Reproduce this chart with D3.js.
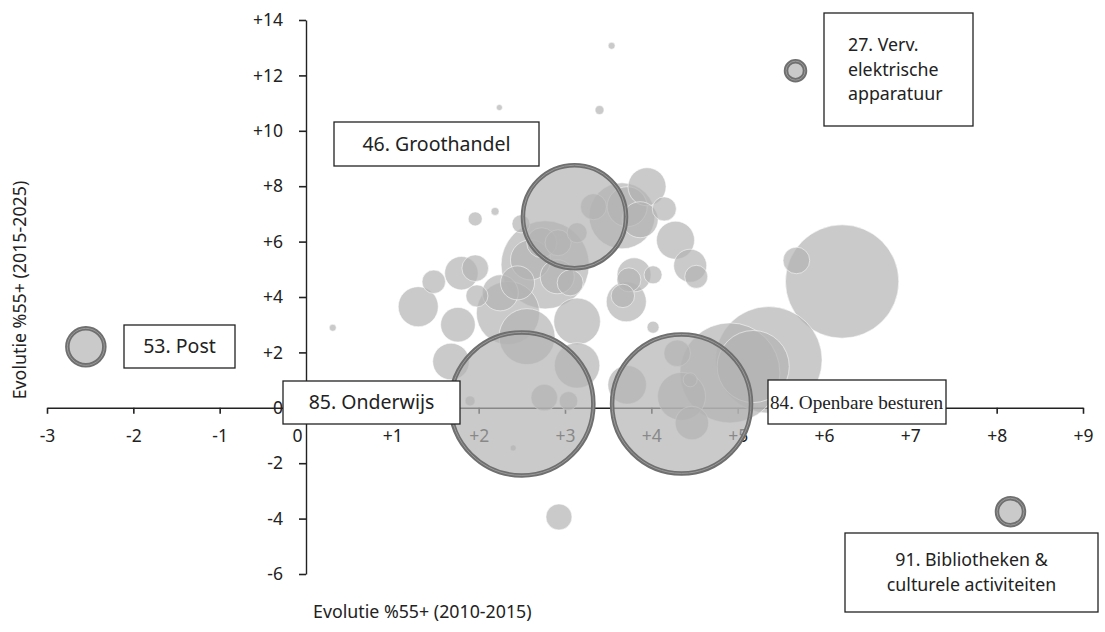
<!DOCTYPE html>
<html>
<head>
<meta charset="utf-8">
<script src="https://cdn.jsdelivr.net/npm/d3@7/dist/d3.min.js"></script>
<style>
  html, body { margin: 0; padding: 0; background: #fff; }
  svg { display: block; }
</style>
</head>
<body>
<svg id="chart" width="1105" height="632"></svg>
<script>
// ---------- DATA ----------
const xTicks = [-3, -2, -1, 0, 1, 2, 3, 4, 5, 6, 7, 8, 9];
const yTicks = [-6, -4, -2, 0, 2, 4, 6, 8, 10, 12, 14];
const xTitle = "Evolutie %55+ (2010-2015)";
const yTitle = "Evolutie %55+ (2015-2025)";

// unlabelled sectors: x = evolution 2010-2015, y = evolution 2015-2025, s = size
const bubbleX = [3.54, 2.24, 3.40, 1.96, 2.19, 2.49, 3.95, 4.15, 4.28, 4.45, 4.52, 4.02, 3.80, 3.74, 3.71, 3.67, 3.66, 3.33, 3.72, 3.87,
                 0.31, 1.30, 1.48, 1.80, 1.96, 1.98, 1.76, 1.68, 2.25, 2.34, 2.56, 3.14, 2.77, 3.14, 2.76, 3.04, 1.90, 2.40, 3.72, 4.02,
                 4.30, 4.35, 4.47, 4.45, 6.21, 5.68, 5.36, 5.18, 4.91, 2.93, 3.14, 2.92, 2.60, 2.91, 2.45, 3.06, 2.73];
const bubbleY = [13.07, 10.84, 10.75, 6.82, 7.09, 6.64, 7.98, 7.18, 6.05, 5.13, 4.73, 4.80, 4.80, 4.62, 3.83, 4.04, 6.93, 7.26, 7.26, 6.79,
                 2.89, 3.65, 4.55, 4.86, 5.04, 4.04, 3.00, 1.67, 4.15, 3.42, 2.57, 3.12, 5.16, 1.53, 0.37, 0.25, 0.25, -1.45, 0.83, 2.91,
                 1.97, 0.41, -0.55, 1.01, 4.56, 5.32, 1.73, 1.49, 1.26, -3.94, 6.32, 5.96, 5.34, 4.73, 4.51, 4.51, 5.96];
const bubbleSize = [0.12, 0.09, 0.20, 0.49, 0.16, 0.81, 3.61, 1.44, 3.61, 2.72, 1.32, 0.81, 2.89, 1.44, 4.0, 1.37, 10.9, 1.69, 4.0, 3.24,
                    0.12, 4.0, 1.37, 2.79, 1.77, 1.21, 2.99, 3.35, 3.24, 10.0, 7.84, 5.43, 19.4, 5.15, 1.77, 0.86, 0.25, 0.09, 3.72, 0.36,
                    1.77, 5.76, 2.79, 0.49, 32.1, 1.77, 28.4, 13.0, 25.0, 1.69, 1.0, 1.69, 4.0, 2.89, 2.89, 1.69, 2.25];

// highlighted sectors
const hiNames = ["53. Post", "27. Verv. elektrische apparatuur", "46. Groothandel", "85. Onderwijs", "84. Openbare besturen", "91. Bibliotheken & culturele activiteiten"];
const hiX = [-2.55, 5.67, 3.11, 2.50, 4.35, 8.16];
const hiY = [2.20, 12.17, 6.90, 0.14, 0.14, -3.75];
const hiSize = [4.41, 1.44, 29.2, 54.8, 51.8, 2.56];

// annotation label lines (per highlighted sector)
const labelLines = [["53. Post"], ["27. Verv.", "elektrische", "apparatuur"], ["46. Groothandel"], ["85. Onderwijs"], ["84. Openbare besturen"], ["91. Bibliotheken &", "culturele activiteiten"]];

// ---------- LAYOUT ----------
const svg = d3.select("#chart");
const x = d3.scaleLinear().domain([-3, 9]).range([47, 1083]);
const y = d3.scaleLinear().domain([-6, 14]).range([574, 20]);
const r = d3.scaleSqrt().domain([0, 100]).range([0, 100]);
const sansFont = "'Noto Sans', 'Open Sans', sans-serif";
const serifFont = "'Liberation Serif', 'DejaVu Serif', serif";

const bubbles = bubbleX.map((v, i) => ({x: v, y: bubbleY[i], s: bubbleSize[i]}))
  .sort((a, b) => b.s - a.s);
const hi = hiNames.map((n, i) => ({name: n, x: hiX[i], y: hiY[i], s: hiSize[i]}));

// axes (drawn under the bubbles)
const fmt = d => d > 0 ? "+" + d : String(d);
const gx = svg.append("g").attr("transform", `translate(0,${y(0)})`)
  .call(d3.axisBottom(x).tickValues(xTicks).tickFormat(fmt).tickSize(6).tickPadding(16).tickSizeOuter(0));
gx.select(".domain").attr("stroke", "#222").attr("stroke-width", 1.4);
gx.selectAll(".tick line").attr("stroke", "#222").attr("stroke-width", 1.6);
gx.selectAll(".tick text").attr("font-family", sansFont).attr("font-size", 17.5).attr("fill", "#222")
  .attr("dx", d => d === 0 ? -9 : 0);

const gy = svg.append("g").attr("transform", `translate(${x(0)},0)`)
  .call(d3.axisLeft(y).tickValues(yTicks).tickFormat(fmt).tickSize(7).tickPadding(16).tickSizeOuter(0));
gy.select(".domain").attr("stroke", "#222").attr("stroke-width", 1.4);
gy.selectAll(".tick line").attr("stroke", "#222").attr("stroke-width", 1.6);
gy.selectAll(".tick text").attr("font-family", sansFont).attr("font-size", 17.5).attr("fill", "#222");

// bubbles
svg.append("g").selectAll("circle").data(bubbles).join("circle")
  .attr("cx", d => x(d.x)).attr("cy", d => y(d.y)).attr("r", d => r(d.s))
  .attr("fill", "#b3b3b3").attr("fill-opacity", 0.7)
  .attr("stroke", "#ffffff").attr("stroke-opacity", 0.6).attr("stroke-width", 0.9);

// highlighted bubbles
const hg = svg.append("g");
hg.selectAll("circle.h").data(hi).join("circle").attr("class", "h")
  .attr("cx", d => x(d.x)).attr("cy", d => y(d.y)).attr("r", d => r(d.s) - 2.5)
  .attr("fill", "#b3b3b3").attr("fill-opacity", 0.7)
  .attr("stroke", "#6f6f6f").attr("stroke-width", 4.5);
hg.selectAll("circle.hl").data(hi).join("circle").attr("class", "hl")
  .attr("cx", d => x(d.x)).attr("cy", d => y(d.y)).attr("r", d => r(d.s) - 2.5)
  .attr("fill", "none").attr("stroke", "#9a9a9a").attr("stroke-width", 1);

// annotation boxes (pixel layout)
const boxes = [
  {x0: 124, y0: 325, x1: 235, y1: 368, anchor: "middle", serif: false},
  {x0: 824, y0: 13, x1: 973, y1: 126, anchor: "start", serif: false, tx: 848},
  {x0: 334, y0: 122, x1: 539, y1: 166, anchor: "middle", serif: false},
  {x0: 283, y0: 381, x1: 460, y1: 424, anchor: "middle", serif: false},
  {x0: 768, y0: 380, x1: 946, y1: 424, anchor: "start", serif: true, tx: 770},
  {x0: 845, y0: 533, x1: 1098, y1: 612, anchor: "middle", serif: false}
];
const lineH = 24.5;
boxes.forEach((b, i) => {
  svg.append("rect").attr("x", b.x0).attr("y", b.y0).attr("width", b.x1 - b.x0).attr("height", b.y1 - b.y0)
    .attr("fill", "#fff").attr("stroke", "#222").attr("stroke-width", 1.3);
  const lines = labelLines[i];
  const cx = b.anchor === "middle" ? (b.x0 + b.x1) / 2 : b.tx;
  const cy = (b.y0 + b.y1) / 2 - (lines.length - 1) * lineH / 2;
  const fs = b.serif ? 19.2 : (lines.length > 1 ? 17.8 : 19.5);
  const t = svg.append("text").attr("text-anchor", b.anchor)
    .attr("font-family", b.serif ? serifFont : sansFont)
    .attr("font-size", fs).attr("fill", "#222");
  lines.forEach((l, j) => {
    t.append("tspan").attr("x", cx).attr("y", cy + j * lineH).attr("dy", "0.35em").text(l);
  });
});

// axis titles
svg.append("text").attr("x", 313).attr("y", 612).attr("dy", "0.35em")
  .attr("font-family", sansFont).attr("font-size", 17.8).attr("fill", "#222").text(xTitle);
svg.append("text").attr("transform", "translate(20,290) rotate(-90)").attr("text-anchor", "middle").attr("dy", "0.35em")
  .attr("font-family", sansFont).attr("font-size", 17.8).attr("fill", "#222").text(yTitle);
</script>
</body>
</html>
